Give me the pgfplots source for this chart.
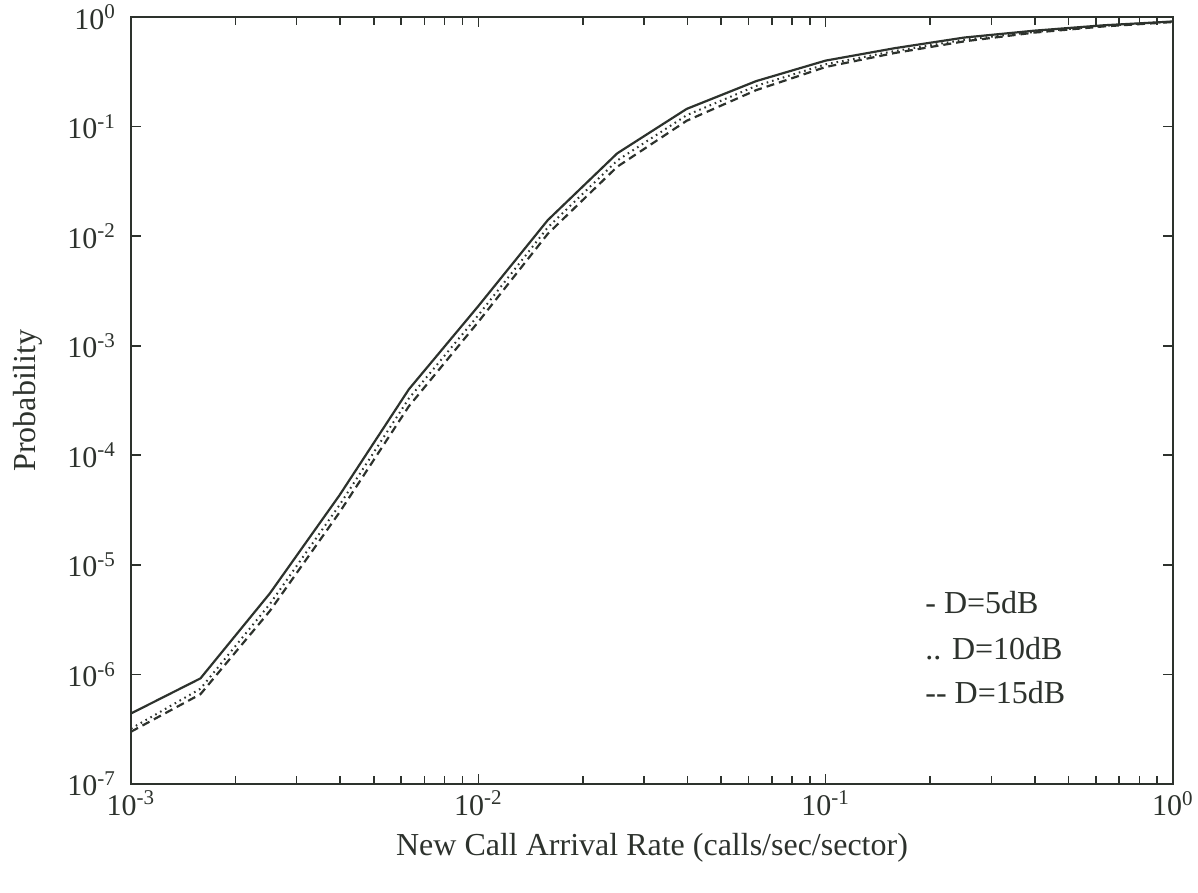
\documentclass[border=0pt]{standalone}
\usepackage{fontspec}
\setmainfont{Liberation Serif}
\usepackage{pgfplots}
\usepackage{pgfplotstable}
\pgfplotsset{compat=1.18}
\definecolor{ink}{RGB}{45,50,45}

% Probability versus new call arrival rate for three values of D
\pgfplotstableread{
x        d5      d10     d15
0.001    4.4e-7  3.2e-7  3.0e-7
0.001585 9.2e-7  7.4e-7  6.6e-7
0.002512 5.5e-6  4.4e-6  3.8e-6
0.003981 4.3e-5  3.5e-5  3.0e-5
0.00631  4.0e-4  3.3e-4  2.8e-4
0.01     2.3e-3  1.9e-3  1.65e-3
0.01585  1.4e-2  1.2e-2  1.05e-2
0.02512  5.7e-2  4.9e-2  4.3e-2
0.03981  0.145   0.127   0.113
0.0631   0.26    0.235   0.215
0.1      0.40    0.37    0.35
0.1585   0.52    0.49    0.47
0.2512   0.65    0.62    0.60
0.3981   0.75    0.73    0.72
0.631    0.84    0.83    0.82
1.0      0.91    0.91    0.90
}\probdata

\begin{document}
\begin{tikzpicture}
\begin{axis}[
  name=ax,
  scale only axis,
  width=521pt, height=383.5pt,
  xmode=log, ymode=log,
  xmin=1e-3, xmax=1, ymin=1e-7, ymax=1,
  xtick={1e-3,1e-2,1e-1,1},
  xticklabels={10\textsuperscript{-3},10\textsuperscript{-2},10\textsuperscript{-1},10\textsuperscript{0}},
  minor xtick={2e-3,3e-3,4e-3,5e-3,6e-3,7e-3,8e-3,9e-3,
               2e-2,3e-2,4e-2,5e-2,6e-2,7e-2,8e-2,9e-2,
               2e-1,3e-1,4e-1,5e-1,6e-1,7e-1,8e-1,9e-1},
  ytick={1e-7,1e-6,1e-5,1e-4,1e-3,1e-2,1e-1,1},
  yticklabels={10\textsuperscript{-7},10\textsuperscript{-6},10\textsuperscript{-5},10\textsuperscript{-4},10\textsuperscript{-3},10\textsuperscript{-2},10\textsuperscript{-1},10\textsuperscript{0}},
  yminorticks=false,
  tick align=inside,
  major tick length=5pt, minor tick length=4pt,
  axis line style={ink, line width=0.9pt},
  every tick/.style={ink, line width=0.8pt},
  tick label style={font=\fontsize{15}{18}\selectfont, text=ink},
  yticklabel style={xshift=-4pt},
  label style={font=\fontsize{16}{19}\selectfont, text=ink},
  xlabel={New Call Arrival Rate (calls/sec/sector)},
  ylabel={Probability},
  xlabel style={at={(axis description cs:0.5,-0.0834)}, anchor=center},
  ylabel style={at={(axis description cs:-0.099,0.5)}, anchor=center},
]
\addplot[ink, line width=1.1pt] table[x=x, y=d5] {\probdata};
\addplot[ink, line width=1pt, dash pattern=on 0.8pt off 2pt] table[x=x, y=d10] {\probdata};
\addplot[ink, line width=1.1pt, dash pattern=on 4pt off 2.5pt] table[x=x, y=d15] {\probdata};

\node[anchor=west, inner sep=0pt, text=ink, font=\fontsize{16}{19}\selectfont]
  at (rel axis cs:0.762,0.237) {- D=5dB};
\node[anchor=west, inner sep=0pt, text=ink, font=\fontsize{16}{19}\selectfont]
  at (rel axis cs:0.762,0.177) {.. D=10dB};
\node[anchor=west, inner sep=0pt, text=ink, font=\fontsize{16}{19}\selectfont]
  at (rel axis cs:0.762,0.119) {-{}- D=15dB};
\end{axis}
\pgfresetboundingbox
\path[use as bounding box] ([shift={(-65.5pt,-54.5pt)}]ax.south west)
  rectangle ([shift={(12.5pt,8.5pt)}]ax.north east);
\end{tikzpicture}
\end{document}
